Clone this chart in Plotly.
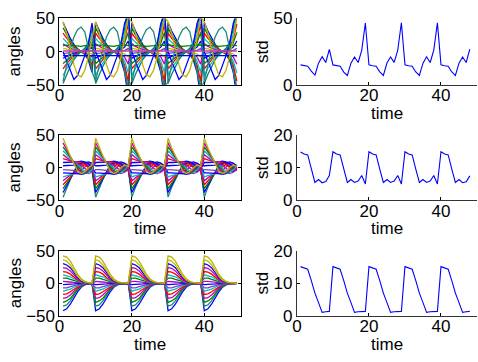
import plotly.graph_objects as go

W, H = 478, 362

# time samples for the angle traces and the std traces
T_ANGLE = list(range(1, 50))
T_STD = list(range(1, 49))

# ---- angle traces: one period (10 samples) read per line, rows 1..3 ----
# series value at t=1..9 uses period idx 0..8, from t=10 on the period repeats
ANGLES_TOP = [
    [44, 31, 20, 11, 4, 0, -4, -13, -31, -70],
    [36, 25, 16, 9, 4, 0, -4, -11, -25, -58],
    [28, 20, 13, 7, 3, 0, -3, -8, -20, -45],
    [20, 14, 9, 5, 2, 0, -2, -6, -14, -32],
    [12, 8, 5, 3, 1, 0, -1, -4, -8, -19],
    [5, 4, 2, 1, 0.5, 0, -0.5, -1.5, -3.5, -8],
    [-3, -2, -1.4, -0.8, -0.3, 0, 0.3, 1, 2, 5],
    [-10, -7, -4.5, -2.5, -1, 0, 1, 3, 7, 16],
    [-18, -13, -8, -4.5, -2, 0, 2, 5, 13, 29],
    [-26, -18, -12, -6.5, -2.6, 0, 2.6, 8, 18, 42],
    [-36, -25, -16, -9, -4, 0, 4, 11, 25, 58],
    [-48, -34, -22, -12, -5, 0, 5, 14, 34, 77],
    [9, 10, 10, 9, 8, 8, 9, 10, 10, 9],
    [-6, -6, -5, -5, -6, -6, -5, -5, -6, -6],
    [0, -15, -30, -42, -36, -22, -6, 12, 43, 55],
    [-45, -20, 5, 22, 33, 37, 30, 5, -30, -55],
    [45, 28, 5, -20, -35, -38, -28, -8, 20, 52],
    [1, 1, 0.5, 0, 0, 0, 0, 0.5, 1, 1],
]
COLORS_TOP = ["#0000FF", "#008000", "#FF0000", "#00BFBF", "#BF00BF", "#BFBF00",
              "#7F3FBF", "#0000FF", "#008000", "#FF0000", "#00BFBF", "#008080",
              "#008000", "#0000FF", "#0000FF", "#1F8A78", "#BFB000", "#B040B0"]

ANGLES_MID = [
    [-45, -30, -18, -6, 5, 9, 6, 0, -4, -2],
    [-38, -27, -16, -7, 2, 7, 7, 2, -3, -3],
    [-32, -24, -15, -8, -2, 4, 8, 5, -1, -4],
    [-26, -20, -13, -8, -4, 0, 5, 7, 3, -3],
    [-20, -16, -11, -9, -7, -4, 1, 5, 6, 0],
    [-14, -12, -10, -9, -9, -8, -5, 0, 4, 3],
    [-8, -8, -8, -8, -9, -10, -9, -6, -1, 2],
    [-3, -3, -3, -4, -5, -6, -8, -9, -7, -3],
    [3, 3, 3, 4, 5, 6, 8, 9, 7, 3],
    [8, 8, 8, 8, 9, 10, 9, 6, 1, -2],
    [14, 12, 10, 9, 9, 8, 5, 0, -4, -3],
    [20, 16, 11, 9, 7, 4, -1, -5, -6, 0],
    [26, 20, 13, 8, 4, 0, -5, -7, -3, 3],
    [32, 24, 15, 8, 2, -4, -8, -5, 1, 4],
    [38, 27, 16, 7, -2, -7, -7, -2, 3, 3],
    [45, 30, 18, 6, -5, -9, -6, 0, 4, 2],
]
COLORS_MID = ["#1F8A78", "#0000FF", "#008000", "#FF0000", "#BF00BF", "#00BFBF",
              "#0000FF", "#7F3FBF", "#0000FF", "#0000FF", "#FF0000", "#BF00BF",
              "#00BFBF", "#008000", "#BF00BF", "#BFB000"]

ANGLES_BOT = [
    [-42, -39, -32, -22, -13, -6, -2.5, -1, -0.5, -0.3],
    [-35, -33, -27, -18, -10, -5, -2, -1, -0.5, -0.3],
    [-29, -27, -23, -15, -9, -4, -1.5, -0.8, -0.4, -0.2],
    [-23, -22, -18, -12, -7, -3, -1.2, -0.6, -0.3, -0.2],
    [-17, -16, -13, -9, -5, -2, -1, -0.5, -0.2, -0.1],
    [-12, -11, -9, -6, -3.5, -1.5, -0.6, -0.3, -0.1, -0.1],
    [-7, -7, -5, -3.5, -2, -1, -0.4, -0.2, -0.1, 0],
    [-2, -2, -1.5, -1, -0.5, -0.2, -0.1, 0, 0, 0],
    [3, 3, 2, 1.5, 1, 0.4, 0.2, 0.1, 0, 0],
    [8, 8, 6, 4, 2, 1, 0.4, 0.2, 0.1, 0],
    [13, 12, 10, 7, 4, 1.5, 0.7, 0.3, 0.2, 0.1],
    [18, 17, 14, 9, 5, 2, 1, 0.5, 0.2, 0.1],
    [24, 23, 19, 13, 7, 3, 1.2, 0.6, 0.3, 0.2],
    [30, 28, 24, 16, 9, 4, 1.5, 0.8, 0.4, 0.2],
    [36, 34, 28, 19, 11, 5, 2, 1, 0.5, 0.3],
    [42, 40, 34, 24, 14, 7, 3, 1, 0.5, 0.3],
]
COLORS_BOT = ["#0000FF", "#1F8A78", "#008000", "#BF00BF", "#FF0000", "#00BFBF",
              "#7F3FBF", "#0000FF", "#BF00BF", "#008000", "#00BFBF", "#FF0000",
              "#BF00BF", "#0000FF", "#BFBF00", "#BFB000"]

# ---- std traces (t = 1..48) ----
STD_TOP = [15.0, 14.4, 14.0, 10.3, 7.2, 16.3, 21.2, 16.8, 26.7,
           15.0, 14.4, 14.0, 9.6, 7.0, 16.3, 21.0, 16.8, 26.0, 46.6,
           15.0, 14.4, 14.0, 9.8, 7.1, 16.4, 21.0, 16.9, 26.2, 46.8,
           15.0, 14.4, 14.0, 9.7, 7.0, 16.3, 21.1, 16.8, 26.1, 46.7,
           15.0, 14.4, 14.0, 9.7, 7.0, 16.3, 21.0, 16.8, 26.9]
STD_MID = [14.8, 14.2, 13.9, 9.7, 5.5, 6.4, 5.4, 5.8, 7.6,
           14.9, 14.2, 13.9, 9.6, 5.5, 6.4, 5.5, 5.9, 7.6, 5.0,
           14.9, 14.2, 13.9, 9.6, 5.5, 6.4, 5.5, 5.9, 7.6, 5.0,
           14.9, 14.2, 13.9, 9.6, 5.5, 6.4, 5.5, 5.9, 7.6, 5.0,
           14.9, 14.2, 13.9, 9.6, 5.5, 6.4, 5.4, 5.7, 7.5]
STD_BOT = [15.1, 14.6, 14.3, 10.8, 7.0, 4.1, 1.1, 1.3, 1.4,
           15.1, 14.6, 14.3, 10.8, 7.0, 4.1, 1.1, 1.3, 1.4, 1.4,
           15.1, 14.6, 14.3, 10.8, 7.0, 4.1, 1.1, 1.3, 1.4, 1.4,
           15.1, 14.6, 14.3, 10.8, 7.0, 4.1, 1.1, 1.3, 1.4, 1.4,
           15.1, 14.6, 14.3, 10.8, 7.0, 4.1, 1.1, 1.3, 1.4]

STD_YTICKS = [[0, 50], [0, 10, 20], [0, 10, 20]]
STD_YRANGE = [[0, 50], [0, 20], [0, 20]]
X_TICKS = [0, 20, 40]

FONT = "Liberation Sans, Arial, Helvetica, sans-serif"
FS = 17

# pixel layout
LEFT_X = (55, 238)
RIGHT_X = (295, 477)
ROWS_Y = [(10, 80), (133, 202), (255, 324)]


def px_x(p):
    return p / W


def px_y(p):
    return 1 - p / H


fig = go.Figure()

angle_sets = [(ANGLES_TOP, COLORS_TOP), (ANGLES_MID, COLORS_MID), (ANGLES_BOT, COLORS_BOT)]
std_sets = [STD_TOP, STD_MID, STD_BOT]

layout = dict(
    width=W, height=H,
    margin=dict(l=0, r=0, t=0, b=0),
    paper_bgcolor="white", plot_bgcolor="white",
    showlegend=False,
    font=dict(family=FONT, size=FS, color="black"),
)

annotations = []
for r in range(3):
    ax_l = 2 * r + 1
    ax_r = 2 * r + 2
    rows, cols = angle_sets[r]
    for row, col in zip(rows, cols):
        series = row[:9] + row * 4
        fig.add_trace(go.Scatter(
            x=T_ANGLE, y=series, mode="lines",
            line=dict(color=col, width=1.3),
            xaxis=f"x{ax_l}", yaxis=f"y{ax_l}", hoverinfo="skip"))
    fig.add_trace(go.Scatter(
        x=T_STD, y=std_sets[r], mode="lines",
        line=dict(color="#0000FF", width=1.1),
        xaxis=f"x{ax_r}", yaxis=f"y{ax_r}", hoverinfo="skip"))

    y0, y1 = ROWS_Y[r]
    ydom = [px_y(y1), px_y(y0)]
    common_x = dict(range=[0, 50], tickvals=X_TICKS, ticks="inside", ticklen=3,
                    showgrid=False, zeroline=False, showline=True,
                    linecolor="black", linewidth=1, tickcolor="black",
                    ticklabelstandoff=-5,
                    tickfont=dict(size=FS, family=FONT))
    common_y = dict(ticks="inside", ticklen=3, showgrid=False, zeroline=False,
                    showline=True, linecolor="black", linewidth=1,
                    tickcolor="black", tickfont=dict(size=FS, family=FONT))
    layout[f"xaxis{ax_l}"] = dict(common_x, domain=[px_x(LEFT_X[0]), px_x(LEFT_X[1])],
                                  anchor=f"y{ax_l}", mirror="ticks")
    layout[f"yaxis{ax_l}"] = dict(common_y, domain=ydom, range=[-50, 50],
                                  tickvals=[-50, 0, 50], anchor=f"x{ax_l}", mirror="ticks")
    layout[f"xaxis{ax_r}"] = dict(common_x, domain=[px_x(RIGHT_X[0]), px_x(RIGHT_X[1])],
                                  anchor=f"y{ax_r}", linecolor="#333333")
    layout[f"yaxis{ax_r}"] = dict(common_y, domain=ydom, range=STD_YRANGE[r],
                                  tickvals=STD_YTICKS[r], anchor=f"x{ax_r}",
                                  linecolor="#333333")

    ymid = (y0 + y1) / 2
    annotations.append(dict(text="angles", x=px_x(10), y=px_y(ymid), textangle=-90))
    annotations.append(dict(text="std", x=px_x(260), y=px_y(ymid), textangle=-90))
    annotations.append(dict(text="time", x=px_x((LEFT_X[0] + LEFT_X[1]) / 2), y=px_y(y1 + 30)))
    annotations.append(dict(text="time", x=px_x((RIGHT_X[0] + RIGHT_X[1]) / 2), y=px_y(y1 + 30)))

for a in annotations:
    a.update(xref="paper", yref="paper", showarrow=False, xanchor="center",
             yanchor="middle", font=dict(size=FS, family=FONT, color="black"))
layout["annotations"] = annotations

fig.update_layout(**layout)
fig.write_html("out.html")
